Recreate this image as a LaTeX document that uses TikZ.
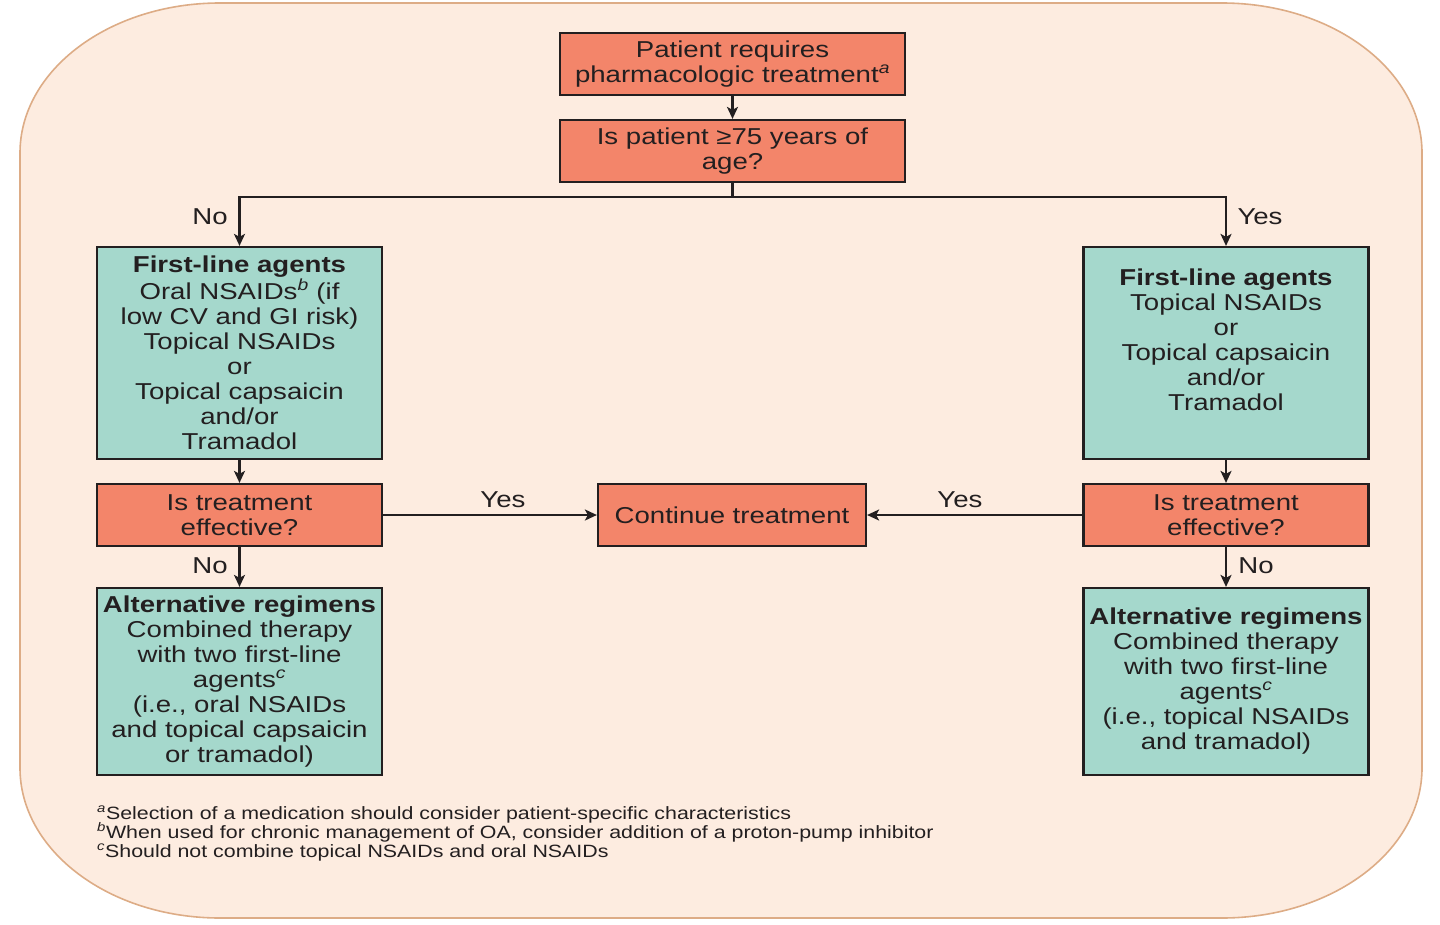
\documentclass[tikz,border=0pt]{standalone}
\usepackage{fontspec}
\setmainfont[FakeStretch=1.2]{Liberation Sans}
\usetikzlibrary{arrows.meta}

\definecolor{bgfill}{RGB}{253,236,224}
\definecolor{bgline}{RGB}{221,172,134}
\definecolor{salmon}{RGB}{243,133,106}
\definecolor{mint}{RGB}{165,216,204}
\definecolor{inkgray}{RGB}{35,31,32}

\begin{document}
\begin{tikzpicture}[x=1pt,y=-1pt,
						every node/.style={text=inkgray,font=\fontsize{23}{25}\selectfont},
						redbox/.style={draw=inkgray,line width=2.2pt,fill=salmon,
						align=center,inner sep=0pt},
						greenbox/.style={draw=inkgray,line width=2.2pt,fill=mint,
						align=center,inner sep=0pt},
						arr/.style={draw=inkgray,line width=2.2pt,
						-{Stealth[length=12pt,width=11pt,inset=3pt]}},
						lbl/.style={inner sep=0pt}]

		\useasboundingbox (0,0) rectangle (1440,924);
		\draw[fill=bgfill,draw=bgline,line width=1.6pt] (20,153) -- (20,768)
			arc[start angle=180,end angle=90,x radius=200,y radius=150] -- (1222,918)
			arc[start angle=90,end angle=0,x radius=200,y radius=150] -- (1422,153)
			arc[start angle=0,end angle=-90,x radius=200,y radius=150] -- (220,3)
			arc[start angle=-90,end angle=-180,x radius=200,y radius=150] -- cycle;

		\node[redbox,minimum width=345pt,minimum height=62pt] (start) at (732.5,64) {Patient requires\\pharmacologic treatment\textsuperscript{\itshape a}};
		\node[redbox,minimum width=345pt,minimum height=62pt] (age) at (732.5,151) {Is patient ≥75 years of\\age?};

		\node[greenbox,minimum width=285pt,minimum height=212pt] (lfirst) at (239.5,353) {\textbf{First-line agents}\\Oral NSAIDs\textsuperscript{\itshape b} (if\\low CV and GI risk)\\Topical NSAIDs\\or\\Topical capsaicin\\and/or\\Tramadol};
		\node[greenbox,minimum width=285pt,minimum height=212pt] (rfirst) at (1226,353) {};
		\node[lbl,align=center] (rfirsttext) at (1226,340) {\textbf{First-line agents}\\Topical NSAIDs\\or\\Topical capsaicin\\and/or\\Tramadol};

		\node[redbox,minimum width=285pt,minimum height=62pt] (leff) at (239.5,515) {Is treatment\\effective?};
		\node[redbox,minimum width=268pt,minimum height=62pt] (cont) at (732,515) {Continue treatment};
		\node[redbox,minimum width=285pt,minimum height=62pt] (reff) at (1226,515) {Is treatment\\effective?};

		\node[greenbox,minimum width=285pt,minimum height=187pt] (lalt) at (239.5,681.5) {\textbf{Alternative regimens}\\Combined therapy\\with two first-line\\agents\textsuperscript{\itshape c}\\(i.e., oral NSAIDs\\and topical capsaicin\\or tramadol)};
		\node[greenbox,minimum width=285pt,minimum height=187pt] (ralt) at (1226,681.5) {\textbf{Alternative regimens}\\Combined therapy\\with two first-line\\agents\textsuperscript{\itshape c}\\(i.e., topical NSAIDs\\and tramadol)};

		\coordinate (fork) at (732.5,197);
		\draw[arr] (start) -- (age);
		\draw[arr] (age) -- (fork) -| (lfirst);
		\draw[arr] (fork) -| (rfirst);
		\draw[arr] (lfirst) -- (leff);
		\draw[arr] (rfirst) -- (reff);
		\draw[arr] (leff) -- (cont);
		\draw[arr] (reff) -- (cont);
		\draw[arr] (leff) -- (lalt);
		\draw[arr] (reff) -- (ralt);

		\node[lbl] (nofirst) at (210,217) {No};
		\node[lbl] (yesfirst) at (1260,217) {Yes};
		\node[lbl] (yesleft) at (503,500) {Yes};
		\node[lbl] (yesright) at (960,500) {Yes};
		\node[lbl] (noleft) at (210,566) {No};
		\node[lbl] (noright) at (1256,566) {No};

		\node[lbl,align=left,anchor=north west,font=\fontsize{17.8}{19}\selectfont] (notes) at (97,806) {\textsuperscript{\itshape a}Selection of a medication should consider patient-specific characteristics\\\textsuperscript{\itshape b}When used for chronic management of OA, consider addition of a proton-pump inhibitor\\\textsuperscript{\itshape c}Should not combine topical NSAIDs and oral NSAIDs};

	\end{tikzpicture}
\end{document}
